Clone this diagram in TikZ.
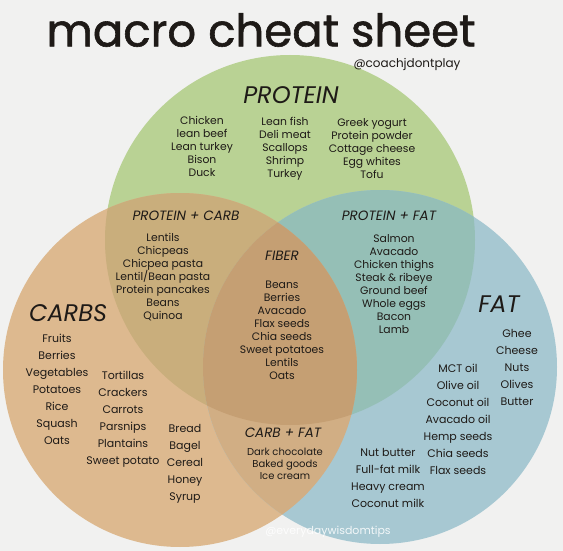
\documentclass[tikz,border=0pt]{standalone}
\usepackage{fontspec}
\setmainfont{Poppins}
\newfontfamily\titlefont[FakeBold=1.3]{Poppins}
\usetikzlibrary{positioning}
\definecolor{ink}{HTML}{1E1A17}
\definecolor{paper}{HTML}{F1F1F0}
\definecolor{proteinGreen}{HTML}{B9D294}
\definecolor{carbTan}{HTML}{DDB98F}
\definecolor{fatBlue}{HTML}{A7C8D2}
\definecolor{pcMix}{HTML}{C9AE7C}
\definecolor{pfMix}{HTML}{95BFB6}
\definecolor{fiberMix}{HTML}{C59F73}
\definecolor{cfMix}{HTML}{D1AE84}

\begin{document}
\begin{tikzpicture}[x=1pt,y=-1pt,
  head/.style={font=\fontsize{24}{24}\selectfont\itshape,text=ink,inner sep=0},
  sub/.style={font=\fontsize{13.5}{14}\selectfont\itshape,text=ink,inner sep=0},
  list/.style={align=center,font=\fontsize{10.8}{13}\selectfont,text=ink,inner sep=0},
  biglist/.style={align=center,font=\fontsize{11}{17}\selectfont,text=ink,inner sep=0}]
\fill[paper] (0,0) rectangle (563,551);
\coordinate (cP) at (290,240);
\coordinate (cC) at (180,370);
\coordinate (cF) at (380,367);
% the three circles
\fill[proteinGreen] (cP) circle (185);
\fill[carbTan] (cC) circle (177);
\fill[fatBlue] (cF) circle (177);
% overlaps
\begin{scope}
  \clip (cP) circle (185);
  \fill[pcMix] (cC) circle (177);
  \fill[pfMix] (cF) circle (177);
\end{scope}
\begin{scope}
  \clip (cC) circle (177);
  \fill[cfMix] (cF) circle (177);
  \clip (cF) circle (177);
  \fill[fiberMix] (cP) circle (185);
\end{scope}

\node[inner sep=0,text=ink,font=\titlefont\fontsize{45}{45}\selectfont] (title) at (261,30) {macro cheat sheet};
\node[inner sep=0,text=ink,font=\fontsize{12}{12}\selectfont] (handle) at (407,64) {@coachjdontplay};

% protein
\node[head] (protein) at (291,95) {PROTEIN};
\node[list] (proteinA) at (202,146.5) {Chicken\\lean beef\\Lean turkey\\Bison\\Duck};
\node[list] (proteinB) at (285,148.5) {Lean fish\\Deli meat\\Scallops\\Shrimp\\Turkey};
\node[list] (proteinC) at (372,148.5) {Greek yogurt\\Protein powder\\Cottage cheese\\Egg whites\\Tofu};

% protein + carb
\node[sub] (pc) at (186,216) {PROTEIN + CARB};
\node[list] (pcList) at (163,277) {Lentils\\Chicpeas\\Chicpea pasta\\Lentil/Bean pasta\\Protein pancakes\\Beans\\Quinoa};

% fiber
\node[sub] (fiber) at (282,256) {FIBER};
\node[list] (fiberList) at (282,330.5) {Beans\\Berries\\Avacado\\Flax seeds\\Chia seeds\\Sweet potatoes\\Lentils\\Oats};

% protein + fat
\node[sub] (pf) at (389,216) {PROTEIN + FAT};
\node[list] (pfList) at (394,284) {Salmon\\Avacado\\Chicken thighs\\Steak \& ribeye\\Ground beef\\Whole eggs\\Bacon\\Lamb};

% carbs
\node[head] (carbs) at (68,313) {CARBS};
\node[biglist] (carbsA) at (57,389) {Fruits\\Berries\\Vegetables\\Potatoes\\Rice\\Squash\\Oats};
\node[biglist] (carbsB) at (123,419.5) {Tortillas\\Crackers\\Carrots\\Parsnips\\Plantains\\Sweet potato};
\node[biglist] (carbsC) at (185,463.5) {Bread\\Bagel\\Cereal\\Honey\\Syrup};

% fat
\node[head] (fat) at (499,304) {FAT};
\node[biglist] (fatC) at (517,367) {Ghee\\Cheese\\Nuts\\Olives\\Butter};
\node[biglist] (fatB) at (458,419) {MCT oil\\Olive oil\\Coconut oil\\Avacado oil\\Hemp seeds\\Chia seeds\\Flax seeds};
\node[biglist] (fatA) at (388,477.5) {Nut butter\\Full-fat milk\\Heavy cream\\Coconut milk};

% carb + fat
\node[sub] (cf) at (283,433) {CARB + FAT};
\node[list,font=\fontsize{10}{12}\selectfont] (cfList) at (285,464) {Dark chocolate\\Baked goods\\Ice cream};

\node[inner sep=0,text=white,opacity=0.85,font=\fontsize{11}{11}\selectfont] (mark) at (328,532) {@everydaywisdomtips};
\end{tikzpicture}
\end{document}
